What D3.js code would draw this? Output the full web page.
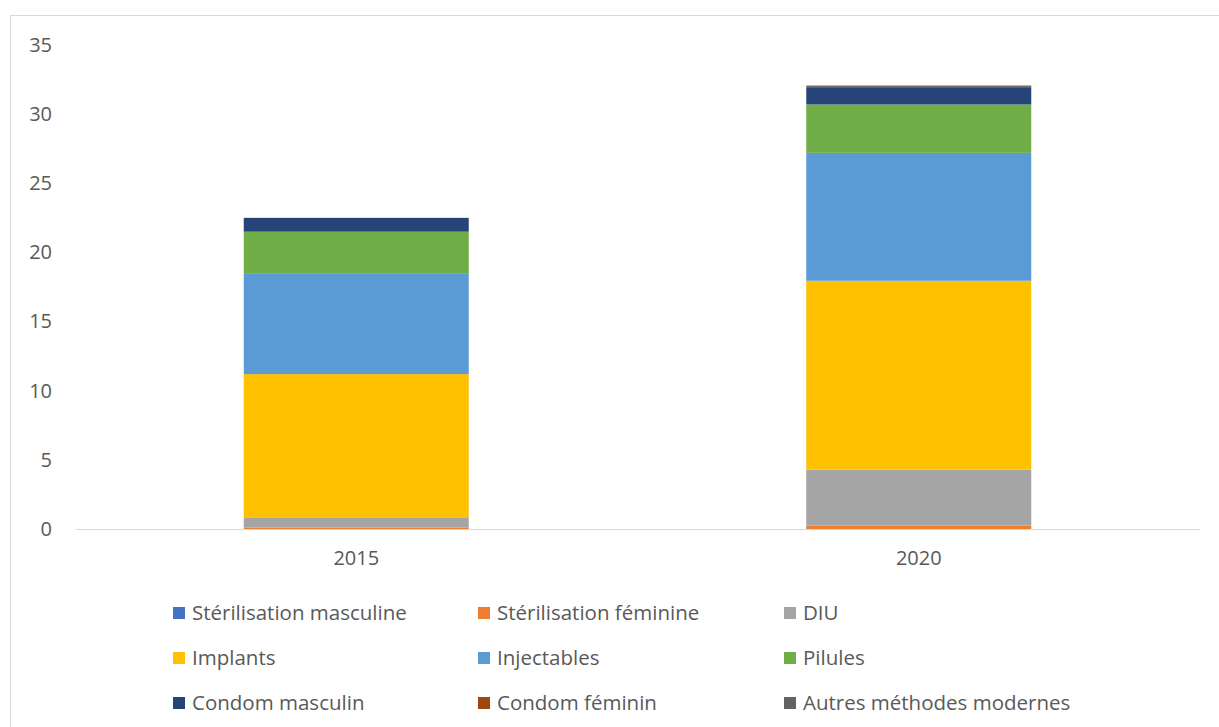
<!DOCTYPE html>
<html>
<head>
<meta charset="utf-8">
<script src="https://cdn.jsdelivr.net/npm/d3@7"></script>
<style>
  body { margin: 0; background: #fff; }
  text { font-family: "Open Sans", "Liberation Sans", sans-serif; fill: #595959; }
</style>
</head>
<body>
<div id="chart"></div>
<script>
// data
var years = ["2015", "2020"];
var methods = ["Stérilisation masculine", "Stérilisation féminine", "DIU",
               "Implants", "Injectables", "Pilules",
               "Condom masculin", "Condom féminin", "Autres méthodes modernes"];
var colors = ["#4472C4", "#ED7D31", "#A5A5A5", "#FFC000", "#5B9BD5", "#70AD47",
              "#264478", "#9E480E", "#636363"];
var values2015 = [0, 0.1, 0.7, 10.4, 7.3, 3.0, 1.0, 0, 0];
var values2020 = [0, 0.25, 4.05, 13.65, 9.25, 3.5, 1.25, 0.02, 0.1];
var yTicks = [0, 5, 10, 15, 20, 25, 30, 35];

var svgWidth = 1219, svgHeight = 727;
var margin = { top: 45, left: 75, right: 19, bottom: 198 };
var width = svgWidth - margin.left - margin.right;
var height = svgHeight - margin.top - margin.bottom;

var svg = d3.select("#chart").append("svg")
    .attr("width", svgWidth)
    .attr("height", svgHeight);

// outer chart border
svg.append("rect")
    .attr("x", 10.5).attr("y", 15.5)
    .attr("width", svgWidth).attr("height", svgHeight)
    .attr("fill", "none").attr("stroke", "#d9d9d9");

var chartGroup = svg.append("g")
    .attr("transform", `translate(${margin.left}, ${margin.top})`);

// build table rows
var table = years.map((y, i) => {
    var row = { year: y };
    var vals = i === 0 ? values2015 : values2020;
    methods.forEach((m, j) => row[m] = vals[j]);
    return row;
});

var stacked = d3.stack().keys(methods)(table);

var xScale = d3.scaleBand()
    .domain(years)
    .range([0, width])
    .paddingInner(0.6)
    .paddingOuter(0.3);

var yScale = d3.scaleLinear()
    .domain([0, 35])
    .range([height, 0]);

var color = d3.scaleOrdinal().domain(methods).range(colors);

// y axis labels only
var yAxis = d3.axisLeft(yScale).tickValues(yTicks).tickSize(0).tickPadding(23);
var yG = chartGroup.append("g").call(yAxis);
yG.select(".domain").remove();
yG.selectAll("text").style("font-size", "20px").attr("fill", "#595959");

// bars
chartGroup.selectAll("g.layer")
    .data(stacked)
    .enter()
    .append("g")
    .attr("class", "layer")
    .attr("fill", d => color(d.key))
    .selectAll("rect")
    .data(d => d)
    .enter()
    .append("rect")
    .attr("x", d => xScale(d.data.year))
    .attr("width", xScale.bandwidth())
    .attr("y", d => yScale(d[1]))
    .attr("height", d => yScale(d[0]) - yScale(d[1]));

// x axis
var xAxis = d3.axisBottom(xScale).tickSize(0).tickPadding(22);
var xG = chartGroup.append("g")
    .attr("transform", `translate(0, ${height})`)
    .call(xAxis);
xG.select(".domain").attr("stroke", "#d9d9d9").attr("stroke-width", 1.2);
xG.selectAll("text").style("font-size", "20px").attr("fill", "#595959");

// legend
var legendCols = [173, 478, 784];
var legendRows = [613, 658, 703];
var legend = svg.selectAll("g.legend")
    .data(methods)
    .enter()
    .append("g")
    .attr("class", "legend")
    .attr("transform", (d, i) => `translate(${legendCols[i % 3]}, ${legendRows[Math.floor(i / 3)]})`);

legend.append("rect")
    .attr("x", 0).attr("y", -6)
    .attr("width", 12).attr("height", 12)
    .attr("fill", d => color(d));

legend.append("text")
    .attr("x", 19)
    .attr("dy", "0.35em")
    .style("font-size", "20.5px")
    .text(d => d);
</script>
</body>
</html>
